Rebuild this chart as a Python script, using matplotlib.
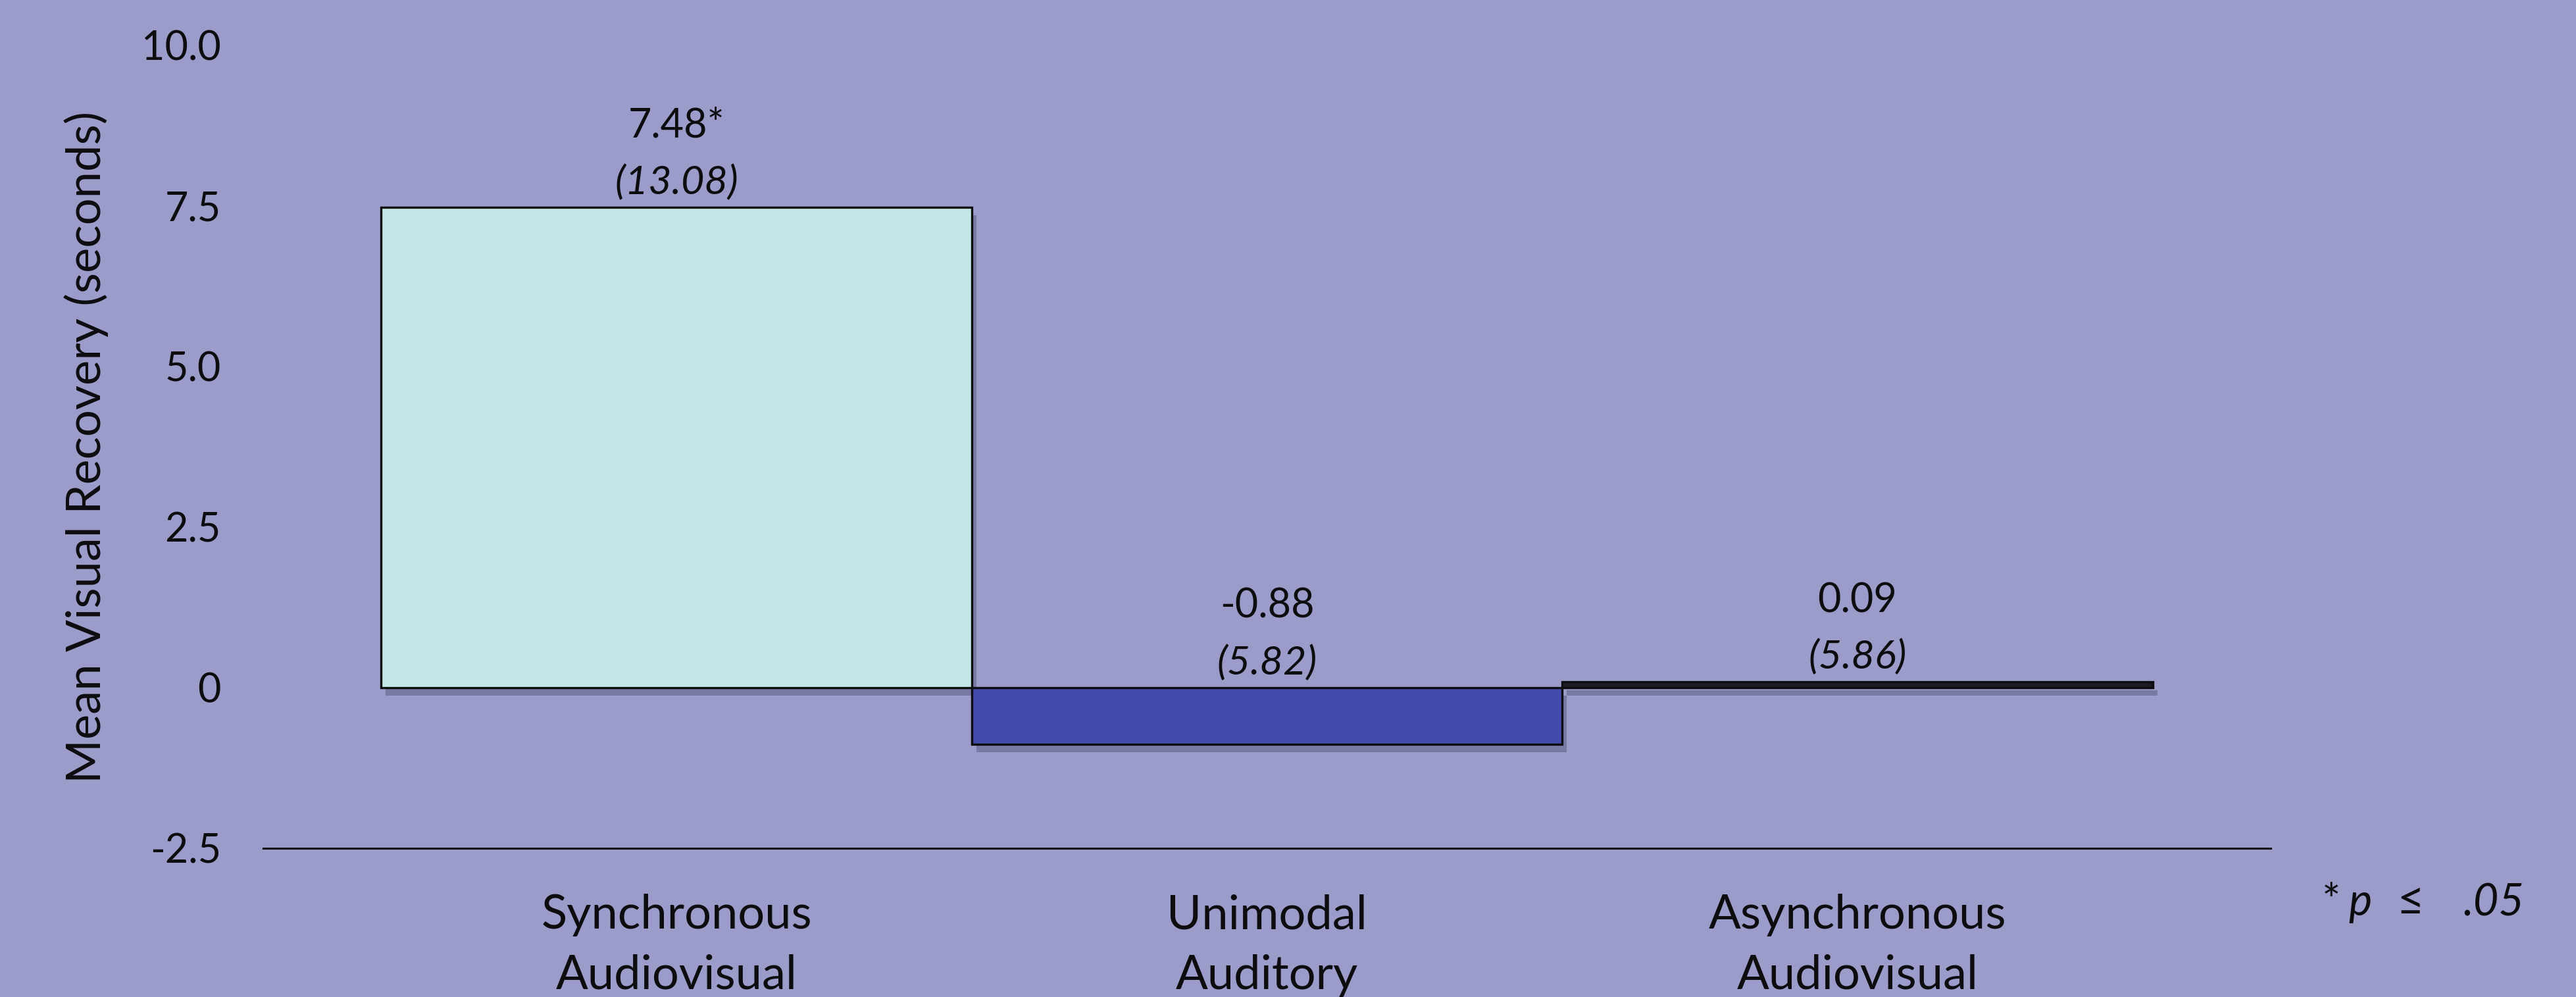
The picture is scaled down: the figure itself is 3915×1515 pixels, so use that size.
import matplotlib
matplotlib.use("Agg")
import matplotlib.pyplot as plt
import matplotlib.patheffects as pe

BG, INK = "#9b9cc9", "#0d0d10"

conditions = ["Synchronous\nAudiovisual", "Unimodal\nAuditory", "Asynchronous\nAudiovisual"]
means = [7.48, -0.88, 0.09]
sds = [13.08, 5.82, 5.86]
stars = ["*", "", ""]
bar_colors = ["#c4e6e6", "#4449ac", "#1c1c24"]
yticks = [-2.5, 0, 2.5, 5.0, 7.5, 10.0]
ytick_labels = ["-2.5", "0", "2.5", "5.0", "7.5", "10.0"]

plt.rcParams["font.family"] = ["Lato", "DejaVu Sans"]

fig = plt.figure(figsize=(39.16, 15.15), dpi=100, facecolor=BG)
ax = fig.add_axes([0.1021, 0.1492, 0.7792, 0.8053])
ax.set_facecolor(BG)

xs = list(range(len(means)))
bars = ax.bar(xs, means, width=1.0, color=bar_colors, edgecolor=INK, linewidth=2.4, zorder=3)
for b in bars:
    b.set_path_effects([pe.SimplePatchShadow(offset=(5, -9), shadow_rgbFace="#2a2a50", alpha=0.3),
                        pe.Normal()])

for x, m, s, st in zip(xs, means, sds, stars):
    top = max(m, 0)
    ax.annotate(f"{m:.2f}{st}", (x, top), xytext=(0, 89), textcoords="offset points",
                ha="center", va="center", fontsize=44, color=INK)
    ax.annotate(f"({s:.2f})", (x, top), xytext=(0, 27), textcoords="offset points",
                ha="center", va="center", fontsize=44, color=INK, style="italic")

ax.set_xlim(-0.7, 2.7)
ax.set_ylim(-2.5, 10.0)
ax.set_yticks(yticks)
ax.set_yticklabels(ytick_labels)
ax.set_xticks(xs)
ax.set_xticklabels([])
ax.tick_params(axis="both", labelcolor=INK, length=0)
ax.tick_params(axis="y", labelsize=44, pad=46)
# category labels drawn as text so the line spacing can be opened up
for x, lab in zip(xs, conditions):
    ax.annotate(lab, (x, 0), xycoords=ax.get_xaxis_transform(), xytext=(0, -50),
                textcoords="offset points", ha="center", va="top", fontsize=52,
                color=INK, linespacing=1.5, annotation_clip=False)
ax.set_ylabel("Mean Visual Recovery (seconds)", fontsize=52, color=INK, labelpad=36)
for sp in ["top", "right", "left"]:
    ax.spines[sp].set_visible(False)
ax.spines["bottom"].set_color(INK)
ax.spines["bottom"].set_linewidth(2.2)
ax.spines["bottom"].set_position(("data", -2.5))

# footnote: * p <= .05
fy = 0.0818
fig.text(0.9011, fy, "*", fontsize=48, color=INK, ha="left", va="baseline")
fig.text(0.9115, fy, "p", fontsize=48, color=INK, ha="left", va="baseline", style="italic")
fig.text(0.9300, fy, "≤", fontsize=52, color=INK, ha="left", va="baseline")
fig.text(0.9560, fy, ".05", fontsize=48, color=INK, ha="left", va="baseline", style="italic")

fig.savefig("out.png", dpi=100, facecolor=BG)
